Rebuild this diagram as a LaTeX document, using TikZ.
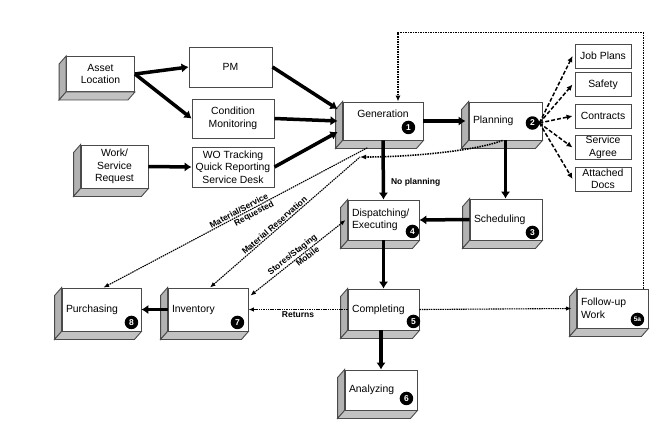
\documentclass[tikz,border=0pt]{standalone}
\usepackage{fontspec}
\setmainfont{Liberation Sans}
\usetikzlibrary{arrows.meta}
\definecolor{edge}{HTML}{4A4A4A}
\definecolor{side}{HTML}{B2B2B2}
\definecolor{base}{HTML}{C2C2C2}
\newcommand{\boxfont}{\fontsize{10.4}{12.5}\selectfont}
\tikzset{>=latex,
  box/.style={draw=edge,fill=white,line width=0.9pt,font=\boxfont},
  proc/.style={box,align=left,inner xsep=4pt,inner ysep=1pt},
  plain/.style={box,align=center,inner sep=1pt},
  badge/.style={circle,fill=black,text=white,inner sep=0pt,minimum size=13.5pt,font=\bfseries\fontsize{8.5}{8.5}\selectfont},
  thick arrow/.style={line width=3.5pt,-{Latex[length=7pt,width=9.5pt]}},
  dash arrow/.style={line width=1.5pt,dash pattern=on 4pt off 2pt,-{Latex[length=6pt,width=5.5pt]}},
  dot line/.style={line width=1.1pt,dash pattern=on 1.5pt off 0.8pt,>={Latex[length=5.5pt,width=4.5pt]}},
  fback/.style={line width=1.6pt,dash pattern=on 1.5pt off 1pt,-{Latex[length=6pt,width=5pt]}},
  lbl/.style={font=\bfseries\fontsize{8.5}{9}\selectfont,inner sep=1pt},
}

\begin{document}
\begin{tikzpicture}[x=1pt,y=-1pt]
  \useasboundingbox (0,0) rectangle (662,440);
  % sources
  \node[proc,align=center,text width=60pt,minimum height=35pt] (asset) at (100.5,74) {Asset\\Location};
  \node[proc,align=center,text width=59pt,minimum height=43pt] (request) at (114.5,166.5) {Work/\\Service\\Request};
  \node[plain,minimum width=83pt,minimum height=40pt] (pm) at (230.5,67) {PM};
  \node[plain,minimum width=82pt,minimum height=39pt] (cond) at (233,118.5) {Condition\\Monitoring};
  \node[plain,minimum width=82pt,minimum height=40pt] (wo) at (233,167) {WO Tracking\\Quick Reporting\\Service Desk};
  % process steps
  \node[proc,align=center,text width=72pt,minimum height=38pt,text depth=14pt] (gen) at (383,121) {Generation};
  \node[proc,text width=65pt,minimum height=38pt] (plan) at (505.5,121) {Planning};
  \node[proc,text width=63pt,minimum height=40pt] (disp) at (383.5,220) {Dispatching/\\Executing};
  \node[proc,text width=64pt,minimum height=41pt] (sched) at (506,219.5) {Scheduling};
  \node[proc,text width=63pt,minimum height=41pt] (compl) at (383.5,309.5) {Completing};
  \node[proc,text width=63pt,minimum height=39pt] (follow) at (612.5,308.5) {Follow-up\\Work};
  \node[proc,text width=64pt,minimum height=40pt] (analyz) at (381,390) {Analyzing};
  \node[proc,text width=71pt,minimum height=43pt] (purch) at (101.5,309.5) {Purchasing};
  \node[proc,text width=72pt,minimum height=43pt] (inv) at (208,309.5) {Inventory};
  % planning items
  \foreach \n/\y/\t in {jobs/56/Job Plans,safety/84.5/Safety,contracts/116/Contracts,agree/147.5/Service\\Agree,docs/179/Attached\\Docs}
    \node[plain,inner ysep=0pt,minimum width=56pt,minimum height=24pt] (\n) at (603,\y) {\t};
  % 3d sides
  \foreach \n in {asset,request,gen,plan,disp,sched,compl,follow,analyz,purch,inv}{
    \filldraw[draw=edge,fill=side,line width=0.9pt] (\n.north west) -- ++(-7,8) -- ([shift={(-7,8)}]\n.south west) -- (\n.south west) -- cycle;
    \filldraw[draw=edge,fill=base,line width=0.9pt] (\n.south west) -- ++(-7,8) -- ([shift={(-7,8)}]\n.south east) -- (\n.south east) -- cycle;
  }
  % step numbers
  \node[badge] (b1) at ([shift={(-15,-13)}]gen.south east) {1};
  \node[badge] (b2) at ([shift={(-10,2)}]plan.east) {2};
  \node[badge] (b3) at ([shift={(-10,-8)}]sched.south east) {3};
  \node[badge] (b4) at ([shift={(-7,-9)}]disp.south east) {4};
  \node[badge] (b5) at ([shift={(-6,-9)}]compl.south east) {5};
  \node[badge,font=\bfseries\fontsize{6.5}{7}\selectfont] (b5a) at ([shift={(-11,-9)}]follow.south east) {5a};
  \node[badge] (b6) at ([shift={(-11,-12)}]analyz.south east) {6};
  \node[badge] (b7) at ([shift={(-11,-9)}]inv.south east) {7};
  \node[badge] (b8) at ([shift={(-10,-9)}]purch.south east) {8};
  % main flow
  \draw[thick arrow] (asset.east) -- (pm.west);
  \draw[thick arrow] (asset.east) -- (cond.west);
  \draw[thick arrow] (request.east) -- (wo.west);
  \draw[thick arrow] (pm.east) -- ([shift={(-5,-12)}]gen.west);
  \draw[thick arrow] (cond.east) -- ([xshift=-5pt]gen.west);
  \draw[thick arrow] (wo.east) -- ([shift={(-5,11)}]gen.west);
  \draw[thick arrow] (gen.east) -- ([xshift=-3pt]plan.west);
  \draw[thick arrow] (gen.south) -- node[lbl,right=5pt,pos=0.7]{No planning} (disp.north);
  \draw[thick arrow] (plan.south) -- (plan.south |- sched.north);
  \draw[thick arrow] (sched.west) -- (disp.east);
  \draw[thick arrow] (disp.south) -- (compl.north);
  \draw[thick arrow] (analyz.north |- compl.south) -- (analyz.north);
  \draw[thick arrow] (inv.west) -- (purch.east);
  \foreach \n in {jobs,safety,contracts,agree,docs}
    \draw[dash arrow] (b2.east) -- ([xshift=-2pt]\n.west);
  % material and feedback
  \coordinate (mres) at (360,157);
  \draw[fback] ([xshift=-3pt]plan.south) .. controls (475,151) and (410,157) .. (mres);
  \draw[dot line,<-] ([xshift=2pt]inv.north) -- node[lbl,sloped,above,pos=0.45]{Material Reservation} (mres);
  \draw[dot line,<-] ([xshift=2pt]purch.north) -- node[lbl,sloped,above,pos=0.52]{Material/Service} node[lbl,sloped,below,pos=0.56]{Requested} ([shift={(-15,7)}]gen.south);
  \draw[dot line,<->] ([shift={(2,8)}]inv.north east) -- node[lbl,sloped,above,pos=0.48]{Stores/Staging} node[lbl,sloped,below,pos=0.57]{Mobile} ([xshift=-2pt]disp.west);
  \draw[dot line,->] (compl.west) -- node[lbl,below=1pt]{Returns} (inv.east);
  \draw[dot line,->] (compl.east) -- ([xshift=-5pt]follow.west);
  \draw[fback] ([xshift=-5pt]follow.north east) -- ++(0,-256) -| ([xshift=15pt]gen.north);
\end{tikzpicture}
\end{document}
